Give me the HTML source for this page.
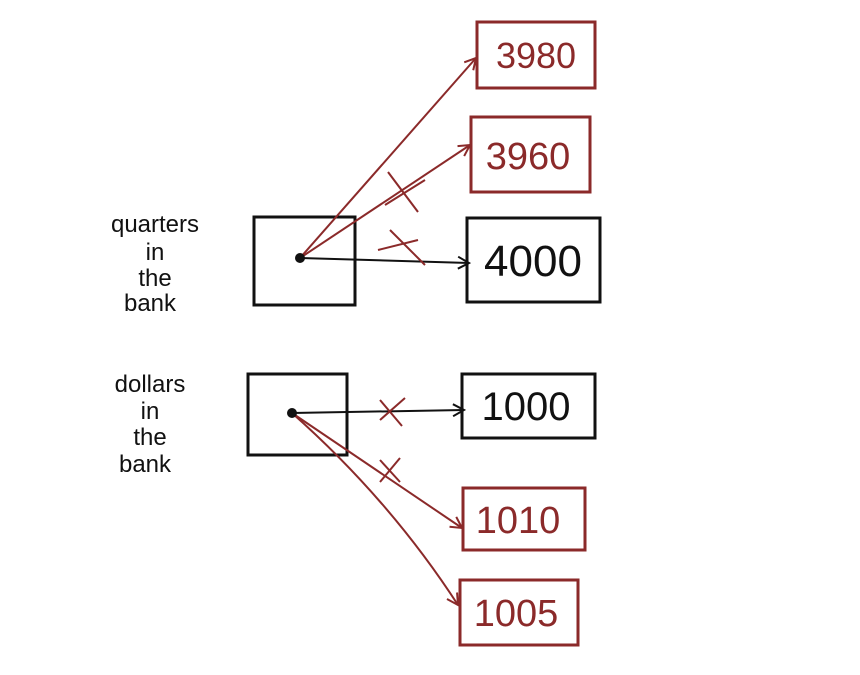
<!DOCTYPE html>
<html><head><meta charset="utf-8"><style>
html,body{margin:0;padding:0;background:#fff;}
svg{display:block;}
text{font-family:"Liberation Sans",sans-serif;}
</style></head><body>
<svg width="860" height="675" viewBox="0 0 860 675" xmlns="http://www.w3.org/2000/svg">
<defs>
<marker id="ab" markerWidth="14" markerHeight="14" refX="12" refY="7" orient="auto" markerUnits="userSpaceOnUse"><path d="M1,1 L12,7 L1,13" fill="none" stroke="#111" stroke-width="2"/></marker>
<marker id="ar" markerWidth="14" markerHeight="14" refX="12" refY="7" orient="auto" markerUnits="userSpaceOnUse"><path d="M1,1 L12,7 L1,13" fill="none" stroke="#8b2a2a" stroke-width="2"/></marker>
</defs>
<g font-size="24" text-anchor="middle" fill="#111">
<text x="155" y="232">quarters</text><text x="155" y="260">in</text><text x="155" y="286">the</text><text x="150" y="311">bank</text>
</g>
<g font-size="24" text-anchor="middle" fill="#111">
<text x="150" y="392">dollars</text><text x="150" y="419">in</text><text x="150" y="445">the</text><text x="145" y="472">bank</text>
</g>
<rect x="254" y="217" width="101" height="88" fill="none" stroke="#111" stroke-width="3"/>
<rect x="248" y="374" width="99" height="81" fill="none" stroke="#111" stroke-width="3"/>
<rect x="467" y="218" width="133" height="84" fill="none" stroke="#111" stroke-width="3"/>
<text x="533" y="276" font-size="44" text-anchor="middle" fill="#111">4000</text>
<rect x="471" y="117" width="119" height="75" fill="none" stroke="#8b2a2a" stroke-width="3"/>
<text x="528" y="169" font-size="38" text-anchor="middle" fill="#8b2a2a">3960</text>
<rect x="477" y="22" width="118" height="66" fill="none" stroke="#8b2a2a" stroke-width="3"/>
<text x="536" y="68" font-size="36" text-anchor="middle" fill="#8b2a2a">3980</text>
<rect x="462" y="374" width="133" height="64" fill="none" stroke="#111" stroke-width="3"/>
<text x="526" y="420" font-size="40" text-anchor="middle" fill="#111">1000</text>
<rect x="463" y="488" width="122" height="62" fill="none" stroke="#8b2a2a" stroke-width="3"/>
<text x="518" y="533" font-size="38" text-anchor="middle" fill="#8b2a2a">1010</text>
<rect x="460" y="580" width="118" height="65" fill="none" stroke="#8b2a2a" stroke-width="3"/>
<text x="516" y="626" font-size="38" text-anchor="middle" fill="#8b2a2a">1005</text>
<g fill="none" stroke-width="2">
<line x1="300" y1="258" x2="469" y2="263" stroke="#111" marker-end="url(#ab)"/>
<line x1="300" y1="258" x2="470" y2="145" stroke="#8b2a2a" marker-end="url(#ar)"/>
<line x1="300" y1="258" x2="476" y2="58" stroke="#8b2a2a" marker-end="url(#ar)"/>
<line x1="292" y1="413" x2="464" y2="410" stroke="#111" marker-end="url(#ab)"/>
<line x1="292" y1="413" x2="462" y2="528" stroke="#8b2a2a" marker-end="url(#ar)"/>
<path d="M292,413 Q390,500 458,605" stroke="#8b2a2a" marker-end="url(#ar)"/>
</g>
<g stroke="#8b2a2a" stroke-width="2" fill="none">
<line x1="388" y1="172" x2="418" y2="212"/><line x1="385" y1="205" x2="425" y2="180"/>
<line x1="390" y1="230" x2="425" y2="265"/><line x1="378" y1="250" x2="418" y2="240"/>
<line x1="380" y1="400" x2="402" y2="426"/><line x1="380" y1="420" x2="405" y2="398"/>
<line x1="380" y1="460" x2="400" y2="482"/><line x1="380" y1="482" x2="400" y2="458"/>
</g>
<circle cx="300" cy="258" r="5" fill="#111"/>
<circle cx="292" cy="413" r="5" fill="#111"/>
</svg>
</body></html>
